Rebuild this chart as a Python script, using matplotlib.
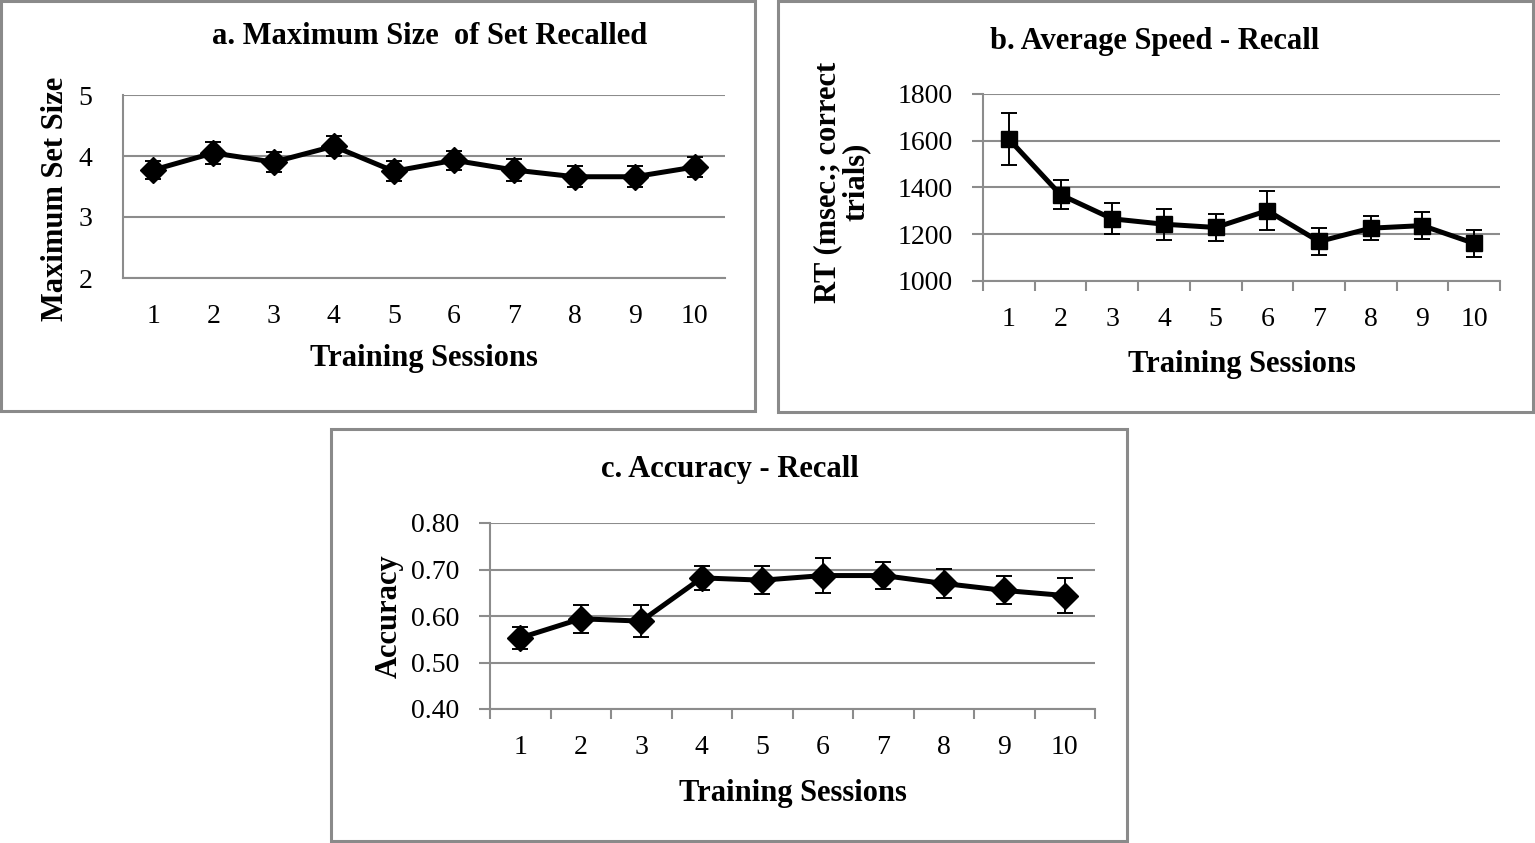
import numpy as np
import matplotlib
matplotlib.use("Agg")
import matplotlib.pyplot as plt
from matplotlib.patches import Rectangle

plt.rcParams['font.family'] = ['Liberation Serif', 'DejaVu Serif']

# ----- data -----
sessions = np.arange(1, 11)

max_set = [3.77, 4.05, 3.90, 4.16, 3.75, 3.93, 3.77, 3.66, 3.66, 3.82]
max_set_err = [0.14, 0.18, 0.16, 0.16, 0.16, 0.16, 0.18, 0.17, 0.17, 0.16]

rt = [1607, 1369, 1266, 1243, 1229, 1301, 1169, 1226, 1237, 1161]
rt_err = [110, 62, 67, 67, 59, 84, 57, 50, 59, 59]

acc = [0.553, 0.594, 0.589, 0.682, 0.677, 0.687, 0.687, 0.670, 0.655, 0.644]
acc_err = [0.024, 0.030, 0.034, 0.026, 0.030, 0.037, 0.030, 0.032, 0.030, 0.037]

# ----- figure -----
W, H = 1535, 843
fig = plt.figure(figsize=(W / 100, H / 100), dpi=100)
GRID = '#8c8c8c'


def px_axes(l, t, r, b):
    return fig.add_axes([l / W, 1 - b / H, (r - l) / W, (b - t) / H])


def box(l, t, r, b):
    fig.patches.append(Rectangle((l / W, 1 - b / H), (r - l) / W, (b - t) / H,
                                 transform=fig.transFigure, fill=False,
                                 edgecolor='#8a8a8a', lw=2.2))


def title(x, y, s):
    fig.text(x / W, 1 - y / H, s, fontsize=22, fontweight='bold',
             ha='center', va='center')


def style(ax, ylim, yticks, ylabels, ticks_out=True):
    ax.set_xlim(0.5, 10.5)
    ax.set_ylim(*ylim)
    ax.set_yticks(yticks)
    ax.set_yticklabels(ylabels)
    ax.set_xticks(sessions)
    for s in ['top', 'right']:
        ax.spines[s].set_visible(False)
    for s in ['left', 'bottom']:
        ax.spines[s].set_color(GRID)
        ax.spines[s].set_linewidth(1.5)
    ax.grid(axis='y', color=GRID, lw=1.5)
    ax.set_axisbelow(True)
    ax.tick_params(axis='x', which='major', length=0, pad=19, labelsize=20)
    if ticks_out:
        ax.set_xticks(np.arange(0.5, 11, 1), minor=True)
        ax.tick_params(axis='x', which='minor', length=7, width=1.5,
                       color=GRID, direction='out')
        ax.tick_params(axis='y', length=8, width=1.5, color=GRID,
                       pad=14, labelsize=20)
    else:
        ax.tick_params(axis='y', length=0, pad=22, labelsize=20)
    ax.set_xlabel('Training Sessions', fontsize=22, fontweight='bold')


def draw(ax, y, err, marker, ms):
    ax.errorbar(sessions, y, yerr=err, color='black', lw=3.6,
                marker=marker, ms=ms, ecolor='black', elinewidth=1.4,
                capsize=6, capthick=1.4, zorder=3)


# panel a
box(1, 1, 755, 411)
ax_a = px_axes(123, 95, 725, 278)
draw(ax_a, max_set, max_set_err, 'D', 13)
style(ax_a, (2, 5), [2, 3, 4, 5], ['2', '3', '4', '5'], ticks_out=False)
title(430, 36, 'a. Maximum Size  of Set Recalled')
ax_a.set_ylabel('Maximum Set Size', fontsize=22, fontweight='bold')
ax_a.yaxis.set_label_coords(-0.088, 0.43)
ax_a.xaxis.set_label_coords(0.5, -0.36)

# panel b
box(778, 1, 1533, 412)
ax_b = px_axes(983, 94, 1500, 281)
draw(ax_b, rt, rt_err, 's', 11)
style(ax_b, (1000, 1800), [1000, 1200, 1400, 1600, 1800],
      ['1000', '1200', '1400', '1600', '1800'])
title(1155, 42, 'b. Average Speed - Recall')
ax_b.set_ylabel('RT (msec.; correct\ntrials)', fontsize=22,
                fontweight='bold', linespacing=1.0)
ax_b.yaxis.set_label_coords(-0.217, 0.53)
ax_b.xaxis.set_label_coords(0.5, -0.37)

# panel c
box(331, 429, 1127, 841)
ax_c = px_axes(490, 523, 1095, 709)
draw(ax_c, acc, acc_err, 'D', 13)
style(ax_c, (0.4, 0.8), [0.4, 0.5, 0.6, 0.7, 0.8],
      ['0.40', '0.50', '0.60', '0.70', '0.80'])
title(730, 470, 'c. Accuracy - Recall')
ax_c.set_ylabel('Accuracy', fontsize=22, fontweight='bold')
ax_c.yaxis.set_label_coords(-0.142, 0.5)
ax_c.xaxis.set_label_coords(0.5, -0.376)

fig.savefig('out.png', dpi=100, facecolor='white')
